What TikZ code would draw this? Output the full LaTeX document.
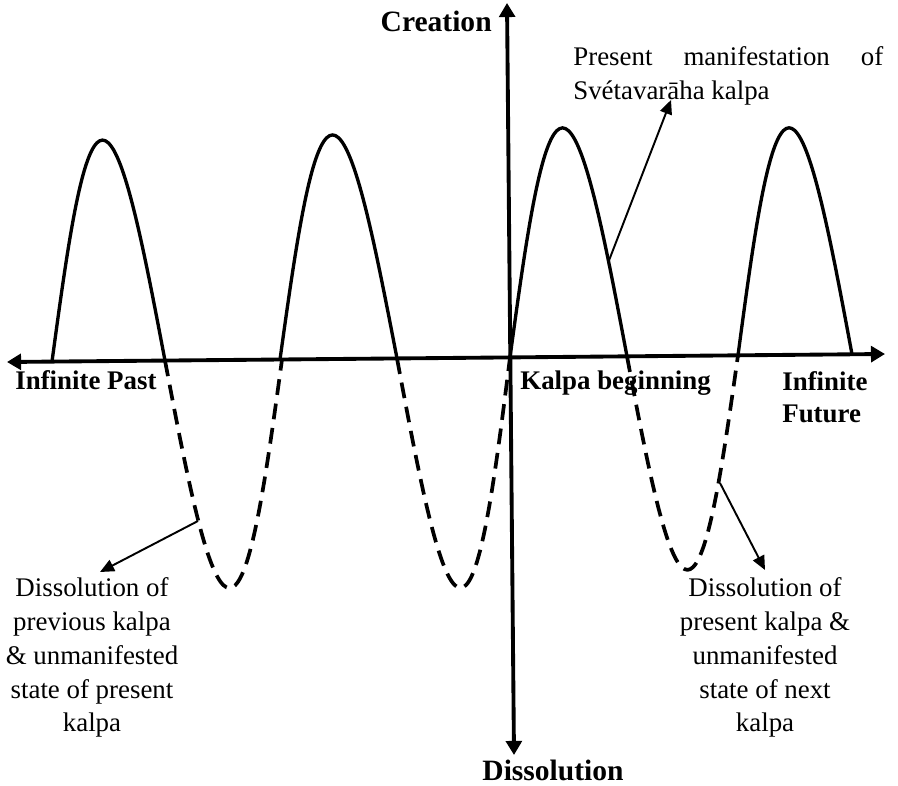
\documentclass[tikz,border=0pt]{standalone}
\usepackage{fontspec}
\setmainfont{Liberation Serif}
\usetikzlibrary{arrows.meta}
\tikzset{
  axis/.style={line width=2.2pt,{Triangle[width=9pt,length=8pt]}-{Triangle[width=9pt,length=8pt]}},
  hump/.style={line width=1.9pt},
  dip/.style={line width=2.1pt,dash pattern=on 9pt off 5pt},
  pointer/.style={line width=1.1pt,-{Triangle[width=7pt,length=8pt]}},
  lbl/.style={font=\fontsize{15.3}{18.1}\selectfont\bfseries,inner sep=0pt},
  biglbl/.style={lbl,font=\fontsize{16.8}{20}\selectfont\bfseries},
  note/.style={font=\fontsize{15.3}{19.3}\selectfont,inner sep=0pt,align=center}
}
\begin{document}
\begin{tikzpicture}[x=0.02cm,y=-0.02cm]
            \useasboundingbox (0,0) rectangle (898,786);
            \coordinate (W) at (7,362);
            \coordinate (E) at (885,354);
            \coordinate (N) at (507,3);
            \coordinate (S) at (514,755);
            \draw[axis] (W)--(E);
            \draw[axis] (S)--(N);
            \foreach \xa/\ya/\xb/\yb/\amp/\sk in {52/361.6/165/360.6/221/-6,
                    280/359.5/397/358.4/224/-6,510/357.4/627/356.4/229/-6,
                    738/355.3/852/354.3/227/-6}
                \draw[hump] plot[domain=0:1,samples=41,smooth,variable=\t]
                    ({\xa+\t*(\xb-\xa)+\sk*sin(180*\t)},{\ya+\t*(\yb-\ya)-\amp*sin(180*\t)});
            \foreach \xa/\ya/\xb/\yb/\amp/\sk in {165/360.6/282/359.5/228/6,
                    397/358.4/510/357.4/230/7,627/356.4/738/355.3/214/5}
                \draw[dip] plot[domain=0:1,samples=41,smooth,variable=\t]
                    ({\xa+\t*(\xb-\xa)+\sk*sin(180*\t)},{\ya+\t*(\yb-\ya)+\amp*sin(180*\t)});
            \coordinate (P1) at (608,263);
            \coordinate (T1) at (671,100);
            \coordinate (P2) at (198,521);
            \coordinate (T2) at (100,572);
            \coordinate (P3) at (720,483);
            \coordinate (T3) at (765,570);
            \draw[pointer] (P1)--(T1);
            \draw[pointer] (P2)--(T2);
            \draw[pointer] (P3)--(T3);
            \node[biglbl,anchor=base east] (creation) at (492,32) {Creation};
            \node[biglbl,anchor=base] (dissolution) at (553,780) {Dissolution};
            \node[lbl,anchor=base west] (past) at (15,390) {Infinite Past};
            \node[lbl,anchor=base west] (kalpa) at (520,390) {Kalpa beginning};
            \node[lbl,anchor=north west,align=left] (future) at (782,371) {Infinite\\Future};
            \node[note,anchor=north west,align=left] (present) at (573,46)
                {\makebox[6.2cm][s]{Present manifestation of}\\Svétavarāha kalpa};
            \node[note,anchor=north] (prevnote) at (92,577)
                {Dissolution of\\previous kalpa\\\& unmanifested\\state of present\\kalpa};
            \node[note,anchor=north] (nextnote) at (765,577)
                {Dissolution of\\present kalpa \&\\unmanifested\\state of next\\kalpa};
\end{tikzpicture}
\end{document}
